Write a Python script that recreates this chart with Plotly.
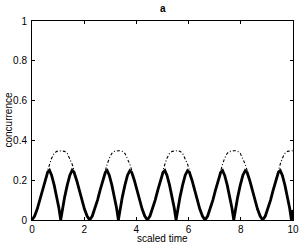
import plotly.graph_objects as go

# scaled time samples
time = [
    0.00, 0.10, 0.20, 0.30, 0.40, 0.50, 0.60, 0.67, 0.75, 0.85, 0.95, 1.03, 1.10, 1.17, 1.25, 1.35, 1.45, 1.54, 1.61, 1.71, 1.81, 1.91, 2.01, 2.11,
    2.21, 2.31, 2.41, 2.51, 2.61, 2.71, 2.81, 2.88, 2.96, 3.06, 3.16, 3.24, 3.31, 3.38, 3.46, 3.56, 3.66, 3.75, 3.82, 3.92, 4.02, 4.12, 4.22, 4.32,
    4.42, 4.52, 4.62, 4.72, 4.82, 4.92, 5.02, 5.09, 5.17, 5.27, 5.37, 5.45, 5.52, 5.59, 5.67, 5.77, 5.87, 5.96, 6.03, 6.13, 6.23, 6.33, 6.43, 6.53,
    6.63, 6.73, 6.83, 6.93, 7.03, 7.13, 7.23, 7.30, 7.38, 7.48, 7.58, 7.66, 7.73, 7.80, 7.88, 7.98, 8.08, 8.17, 8.24, 8.34, 8.44, 8.54, 8.64, 8.74,
    8.84, 8.94, 9.04, 9.14, 9.24, 9.34, 9.44, 9.51, 9.59, 9.69, 9.79, 9.87, 9.94, 10.00,
]

# solid curve (concurrence)
conc_solid = [
    0.000, 0.020, 0.055, 0.100, 0.150, 0.200, 0.240, 0.250, 0.225, 0.175, 0.115, 0.060, 0.000, 0.060, 0.115, 0.175, 0.225, 0.250, 0.240, 0.200, 0.150, 0.100, 0.055, 0.020,
    0.000, 0.020, 0.055, 0.100, 0.150, 0.200, 0.240, 0.248, 0.225, 0.175, 0.115, 0.060, 0.000, 0.060, 0.115, 0.175, 0.225, 0.248, 0.240, 0.200, 0.150, 0.100, 0.055, 0.020,
    0.000, 0.020, 0.055, 0.100, 0.150, 0.200, 0.240, 0.248, 0.225, 0.175, 0.115, 0.060, 0.000, 0.060, 0.115, 0.175, 0.225, 0.248, 0.240, 0.200, 0.150, 0.100, 0.055, 0.020,
    0.000, 0.020, 0.055, 0.100, 0.150, 0.200, 0.240, 0.248, 0.225, 0.175, 0.115, 0.060, 0.000, 0.060, 0.115, 0.175, 0.225, 0.248, 0.240, 0.200, 0.150, 0.100, 0.055, 0.020,
    0.000, 0.020, 0.055, 0.100, 0.150, 0.200, 0.240, 0.248, 0.225, 0.175, 0.115, 0.060, 0.000, 0.050,
]

# dash-dot curve (concurrence)
conc_dashdot = [
    0.000, 0.020, 0.055, 0.100, 0.150, 0.200, 0.250, 0.280, 0.310, 0.335, 0.345, 0.348, 0.348, 0.348, 0.345, 0.335, 0.310, 0.280, 0.250, 0.200, 0.150, 0.100, 0.055, 0.020,
    0.000, 0.020, 0.055, 0.100, 0.150, 0.200, 0.250, 0.280, 0.310, 0.335, 0.345, 0.348, 0.348, 0.348, 0.345, 0.335, 0.310, 0.280, 0.250, 0.200, 0.150, 0.100, 0.055, 0.020,
    0.000, 0.020, 0.055, 0.100, 0.150, 0.200, 0.250, 0.280, 0.310, 0.335, 0.345, 0.348, 0.348, 0.348, 0.345, 0.335, 0.310, 0.280, 0.250, 0.200, 0.150, 0.100, 0.055, 0.020,
    0.000, 0.020, 0.055, 0.100, 0.150, 0.200, 0.250, 0.280, 0.310, 0.335, 0.345, 0.348, 0.348, 0.348, 0.345, 0.335, 0.310, 0.280, 0.250, 0.200, 0.150, 0.100, 0.055, 0.020,
    0.000, 0.020, 0.055, 0.100, 0.150, 0.200, 0.250, 0.280, 0.310, 0.335, 0.345, 0.348, 0.348, 0.348,
]

x_ticks = [0, 2, 4, 6, 8, 10]
y_ticks = [0, 0.2, 0.4, 0.6, 0.8, 1]
y_tick_labels = ["0", "0.2", "0.4", "0.6", "0.8", "1"]

FONT = "Liberation Sans, Arial, sans-serif"

fig = go.Figure()
fig.add_trace(go.Scatter(
    x=time, y=conc_dashdot, mode="lines",
    line=dict(color="black", width=1.1, dash="3px,2px,1px,2px"),
    showlegend=False,
))
fig.add_trace(go.Scatter(
    x=time, y=conc_solid, mode="lines",
    line=dict(color="black", width=2.8),
    showlegend=False,
))

axis_common = dict(
    showgrid=False, zeroline=False, showline=True, linecolor="black", linewidth=1,
    mirror="ticks", ticks="inside", ticklen=3, tickcolor="black", automargin=False,
    tickfont=dict(family=FONT, size=10, color="black"),
)

fig.update_layout(
    width=300, height=245,
    margin=dict(l=32, r=7, t=21, b=25, pad=0),
    paper_bgcolor="white", plot_bgcolor="white",
    xaxis=dict(range=[0, 10], tickvals=x_ticks, ticklabelstandoff=0, **axis_common),
    yaxis=dict(range=[0, 1], tickvals=y_ticks, ticktext=y_tick_labels, ticklabelstandoff=2, **axis_common),
    annotations=[
        dict(text="<b>a</b>", xref="paper", yref="paper", x=0.5, y=1, yshift=13,
             xanchor="center", yanchor="middle", showarrow=False,
             font=dict(family=FONT, size=10, color="black")),
        dict(text="scaled time", xref="paper", yref="paper", x=0.5, y=0, yshift=-18,
             xanchor="center", yanchor="middle", showarrow=False,
             font=dict(family=FONT, size=10, color="black")),
        dict(text="concurrence", xref="paper", yref="paper", x=0, xshift=-24, y=0.5,
             xanchor="center", yanchor="middle", showarrow=False, textangle=-90,
             font=dict(family=FONT, size=10, color="black")),
    ],
)

fig.write_html("out.html", config={"displayModeBar": False},
               post_script="document.body.style.margin='0';document.body.style.overflow='hidden';")
